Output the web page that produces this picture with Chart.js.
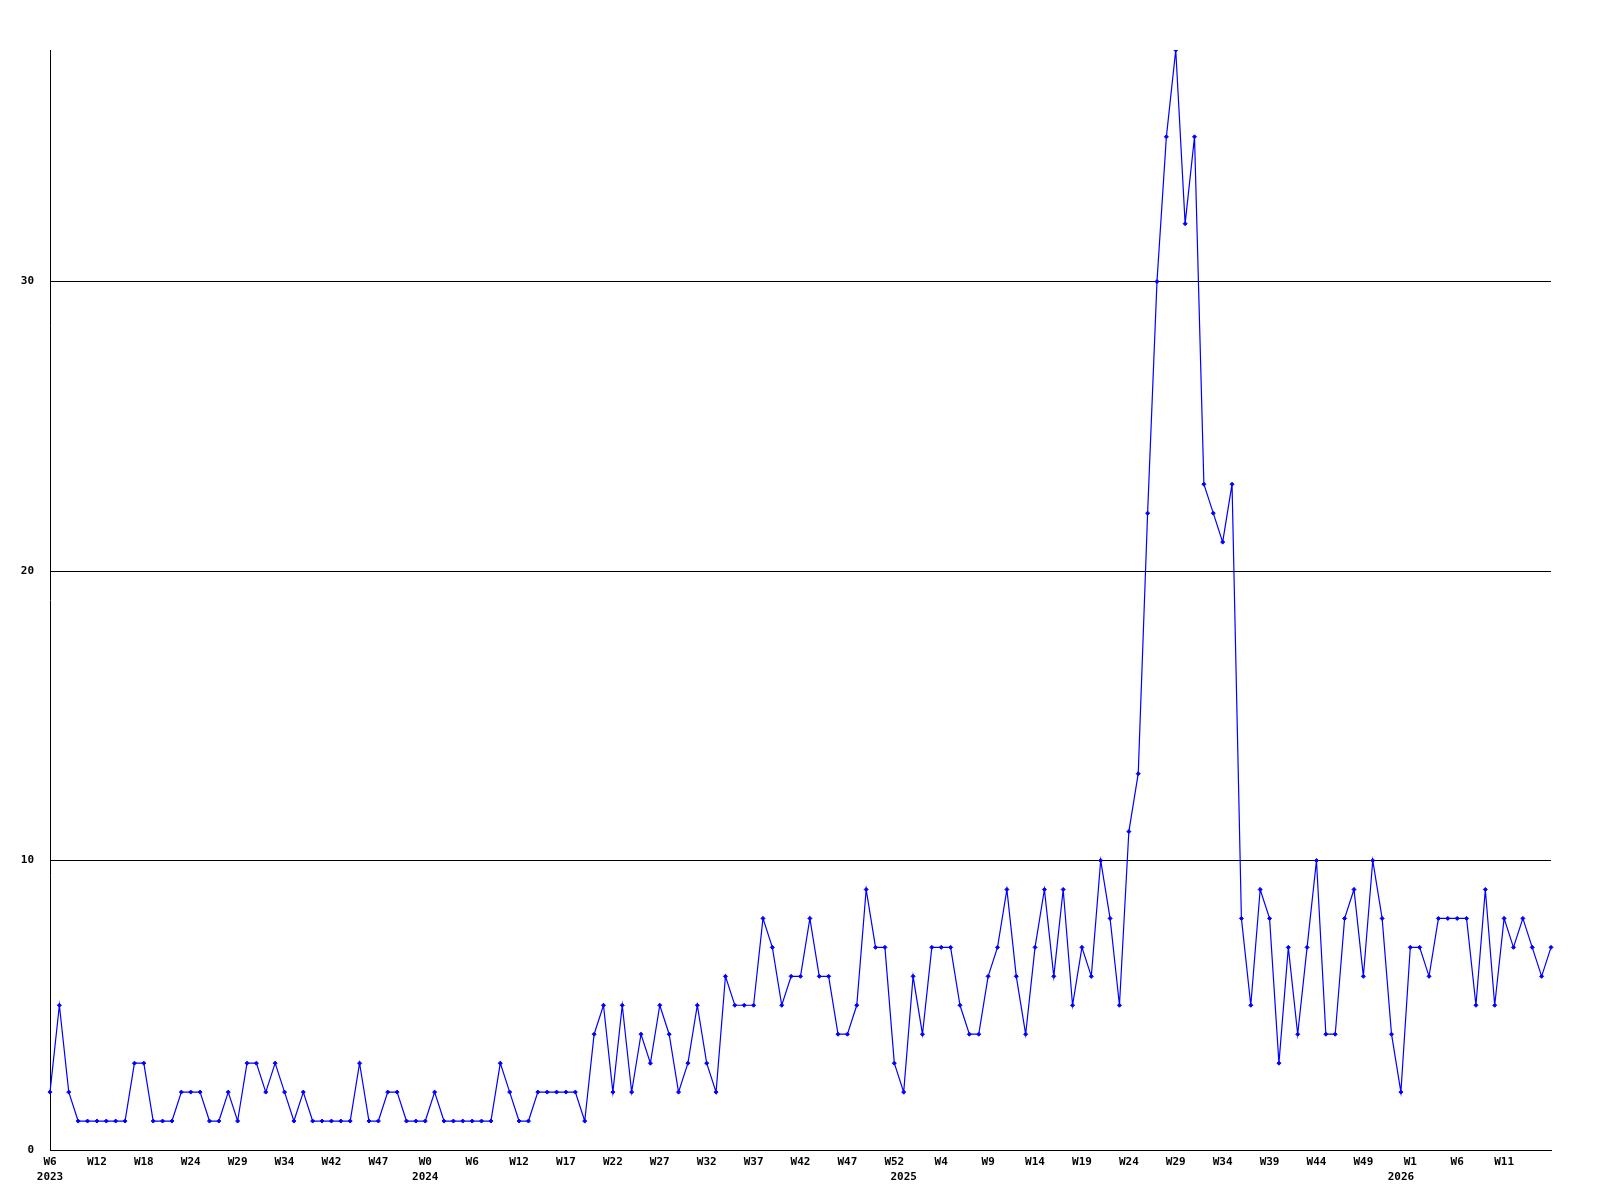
<!DOCTYPE html>
<html>
<head>
<meta charset="utf-8">
<script src="https://cdn.jsdelivr.net/npm/chart.js@4"></script>
<style>
  html, body { margin: 0; padding: 0; background: #fff; }
  #wrap { width: 1600px; height: 1200px; }
</style>
</head>
<body>
<div id="wrap"><canvas id="weeklyChart" width="1600" height="1200"></canvas></div>
<script>
// weekly counts, one per point
const counts = [
    2, 5, 2, 1, 1, 1, 1, 1, 1, 3, 3, 1, 1, 1, 2, 2, 2, 1, 1, 2,
    1, 3, 3, 2, 3, 2, 1, 2, 1, 1, 1, 1, 1, 3, 1, 1, 2, 2, 1, 1,
    1, 2, 1, 1, 1, 1, 1, 1, 3, 2, 1, 1, 2, 2, 2, 2, 2, 1, 4, 5,
    2, 5, 2, 4, 3, 5, 4, 2, 3, 5, 3, 2, 6, 5, 5, 5, 8, 7, 5, 6,
    6, 8, 6, 6, 4, 4, 5, 9, 7, 7, 3, 2, 6, 4, 7, 7, 7, 5, 4, 4,
    6, 7, 9, 6, 4, 7, 9, 6, 9, 5, 7, 6, 10, 8, 5, 11, 13, 22, 30, 35,
    38, 32, 35, 23, 22, 21, 23, 8, 5, 9, 8, 3, 7, 4, 7, 10, 4, 4, 8, 9,
    6, 10, 8, 4, 2, 7, 7, 6, 8, 8, 8, 8, 5, 9, 5, 8, 7, 8, 7, 6,
    7
];

// week label shown on every 5th point
const weekTicks = [
    'W6', 'W12', 'W18', 'W24', 'W29', 'W34', 'W42', 'W47',
    'W0', 'W6', 'W12', 'W17', 'W22', 'W27', 'W32', 'W37', 'W42', 'W47', 'W52',
    'W4', 'W9', 'W14', 'W19', 'W24', 'W29', 'W34', 'W39', 'W44', 'W49',
    'W1', 'W6', 'W11'
];

// year captions and the point they sit under
const yearText = ['2023', '2024', '2025', '2026'];
const yearAt = [0, 40, 91, 144];

const yTicks = [0, 10, 20, 30];
const yMax = 38;

const tickFont = { family: 'DejaVu Sans Mono', size: 11, weight: 'bold', lineHeight: 1.4 };

const labels = counts.map((_, i) => i);

new Chart(document.getElementById('weeklyChart').getContext('2d'), {
    type: 'line',
    data: {
        labels,
        datasets: [{
            data: counts,
            borderColor: 'rgb(0, 0, 255)',
            backgroundColor: 'rgb(0, 0, 255)',
            borderWidth: 1.2,
            tension: 0,
            fill: false,
            pointStyle: 'rectRot',
            pointRadius: 2,
            pointBorderWidth: 1,
            pointBorderColor: 'rgb(0, 0, 255)',
            pointBackgroundColor: 'rgb(0, 0, 255)'
        }]
    },
    options: {
        responsive: false,
        animation: false,
        layout: { padding: { top: 50, right: 49, bottom: 0, left: 0 } },
        plugins: {
            legend: { display: false },
            tooltip: { enabled: false }
        },
        scales: {
            x: {
                type: 'category',
                offset: false,
                grid: { display: false, drawTicks: false },
                border: { display: true, color: '#000', width: 1 },
                ticks: {
                    autoSkip: false,
                    maxRotation: 0,
                    minRotation: 0,
                    padding: 4,
                    color: '#000',
                    font: tickFont,
                    callback: (value, index) => {
                        const w = index % 5 === 0 ? weekTicks[index / 5] : '';
                        const y = yearAt.indexOf(index);
                        if (y >= 0) return [w, yearText[y]];
                        return w;
                    }
                },
                afterFit: (scale) => { scale.height = 50; }
            },
            y: {
                min: 0,
                max: yMax,
                grid: { color: '#000', lineWidth: 1, drawTicks: false },
                border: { display: true, color: '#000', width: 1 },
                afterBuildTicks: (scale) => {
                    scale.ticks = yTicks.map(v => ({ value: v }));
                },
                ticks: {
                    padding: 16,
                    color: '#000',
                    font: tickFont
                },
                afterFit: (scale) => { scale.width = 50; }
            }
        }
    }
});
</script>
</body>
</html>
